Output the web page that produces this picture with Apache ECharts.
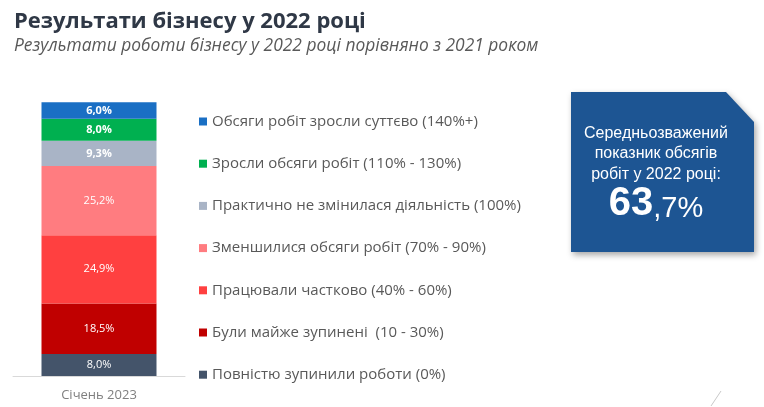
<!DOCTYPE html>
<html>
<head>
<meta charset="utf-8">
<script src="https://cdn.jsdelivr.net/npm/echarts@6/dist/echarts.min.js"></script>
<style>
  html, body { margin: 0; padding: 0; background: #fff; }
  #main { width: 764px; height: 407px; }
</style>
</head>
<body>
<div id="main"></div>
<script>
// stack order: bottom to top
var categories = ['Січень 2023'];
var seriesNames = [
  'Повністю зупинили роботи (0%)',
  'Були майже зупинені  (10 - 30%)',
  'Працювали частково (40% - 60%)',
  'Зменшилися обсяги робіт (70% - 90%)',
  'Практично не змінилася діяльність (100%)',
  'Зросли обсяги робіт (110% - 130%)',
  'Обсяги робіт зросли суттєво (140%+)'
];
var seriesValues = [8.0, 18.5, 24.9, 25.2, 9.3, 8.0, 6.0];
var seriesColors = ['#44546a', '#c00000', '#ff4040', '#ff7c80', '#a9b4c6', '#00b050', '#1a6fc4'];

var chartDom = document.getElementById('main');
var myChart = echarts.init(chartDom);
var option;

var series = seriesNames.map(function (name, i) {
  return {
    name: name,
    type: 'bar',
    stack: 'total',
    barWidth: 115,
    itemStyle: { color: seriesColors[i] },
    label: {
      show: true,
      position: 'inside',
      color: '#fff',
      fontSize: 11,
      fontWeight: i >= 4 ? 'bold' : 'normal',
      fontFamily: 'Open Sans',
      formatter: function (p) {
        return p.value.toFixed(1).replace('.', ',') + '%';
      }
    },
    data: [seriesValues[i]]
  };
});

option = {
  animation: false,
  title: {
    text: 'Результати бізнесу у 2022 році',
    subtext: 'Результати роботи бізнесу у 2022 році порівняно з 2021 роком',
    left: 9,
    top: 6,
    itemGap: 5,
    textStyle: { fontFamily: 'Open Sans', fontWeight: 'bold', fontSize: 22, color: '#2f3846' },
    subtextStyle: { fontFamily: 'Open Sans', fontStyle: 'italic', fontSize: 17.4, color: '#595959' }
  },
  legend: {
    orient: 'vertical',
    left: 194,
    top: 109,
    itemWidth: 8,
    itemHeight: 8,
    itemGap: 27.2,
    icon: 'rect',
    data: seriesNames.slice().reverse(),
    textStyle: { fontFamily: 'Open Sans', fontSize: 15, color: '#595959' }
  },
  grid: { left: 13, width: 172, top: 102, bottom: 31 },
  xAxis: {
    type: 'category',
    data: categories,
    axisLine: { lineStyle: { color: '#d9d9d9' } },
    axisTick: { show: false },
    axisLabel: { color: '#7f7f7f', fontSize: 13, fontFamily: 'Open Sans', margin: 13 }
  },
  yAxis: { type: 'value', min: 0, max: 100, show: false },
  series: series,
  graphic: [
    {
      type: 'polygon',
      shape: { points: [[571, 92], [726, 92], [754, 122], [754, 252], [571, 252]] },
      style: { fill: '#1d5593', shadowBlur: 6, shadowOffsetX: 2, shadowOffsetY: 3, shadowColor: 'rgba(0,0,0,0.35)' }
    },
    {
      type: 'text',
      x: 656,
      y: 123,
      style: {
        text: 'Середньозважений\nпоказник обсягів\nробіт у 2022 році:',
        fill: '#fff',
        font: '16px "Liberation Sans", Arial, sans-serif',
        lineHeight: 20.5,
        align: 'center',
        verticalAlign: 'top'
      }
    },
    {
      type: 'text',
      x: 656,
      y: 184,
      style: {
        text: '{a|63}{b|,7%}',
        align: 'center',
        verticalAlign: 'top',
        rich: {
          a: { fill: '#fff', fontSize: 40, fontWeight: 'bold', fontFamily: 'Liberation Sans' },
          b: { fill: '#fff', fontSize: 29, fontFamily: 'Liberation Sans', padding: [9, 0, 0, 0] }
        }
      }
    },
    {
      type: 'line',
      shape: { x1: 711, y1: 406, x2: 721, y2: 391 },
      style: { stroke: '#c8c8c8', lineWidth: 1 }
    }
  ]
};

option && myChart.setOption(option);
</script>
</body>
</html>
